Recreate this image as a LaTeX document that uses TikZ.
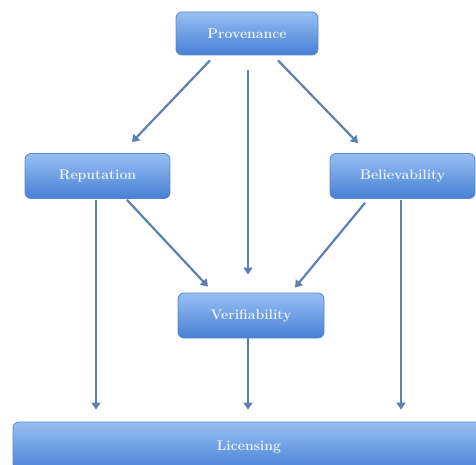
\documentclass[tikz,border=0pt]{standalone}
\usetikzlibrary{arrows.meta}

\definecolor{boxtop}{HTML}{98BFF3}
\definecolor{boxbottom}{HTML}{4680D4}
\definecolor{boxline}{HTML}{5787CC}
\definecolor{arrowblue}{HTML}{5E7FB2}
\definecolor{boxtext}{HTML}{EAF1FB}

\begin{document}
\begin{tikzpicture}[
            x=1pt, y=1pt,
            box/.style={draw=boxline, line width=0.8pt, rounded corners=6pt,
                top color=boxtop, bottom color=boxbottom,
                text=boxtext, font=\fontsize{14}{16}\selectfont\bfseries,
                minimum width=#1, minimum height=45pt, inner sep=0pt},
            box/.default=145pt,
            arr/.style={->, draw=arrowblue, line width=2.2pt},
            >={Triangle[length=7pt,width=9pt]}
        ]
        \clip (0,0) rectangle (476,464);

        \node[box=142pt, minimum height=43pt] (prov) at (247,430.5) {Provenance};
        \node[box] (rep) at (97.5,288) {Reputation};
        \node[box] (bel) at (402.5,288) {Believability};
        \node[box=146pt] (ver) at (251,148.5) {Verifiability};
        \node[box=472pt, minimum height=50pt] (lic) at (249,17) {Licensing};

        % from the top box
        \draw[arr] ([xshift=-37pt,yshift=-5pt]prov.south) -- ([xshift=34.5pt,yshift=11pt]rep.north);
        \draw[arr] ([xshift=1pt,yshift=-15pt]prov.south) -- ([xshift=-3pt,yshift=18pt]ver.north);
        \draw[arr] ([xshift=31pt,yshift=-5pt]prov.south) -- ([xshift=-44.5pt,yshift=10pt]bel.north);

        % into the middle box
        \draw[arr] ([xshift=29.5pt,yshift=-1pt]rep.south) -- ([xshift=-43pt,yshift=6pt]ver.north);
        \draw[arr] ([xshift=-37.5pt,yshift=-4pt]bel.south) -- ([xshift=44pt,yshift=5pt]ver.north);

        % down to the bottom box
        \draw[arr] ([xshift=-1.5pt,yshift=-1pt]rep.south) -- ([xshift=-1.5pt,yshift=12pt]rep.south |- lic.north);
        \draw[arr] ([xshift=-3pt]ver.south) -- ([xshift=-3pt,yshift=12pt]ver.south |- lic.north);
        \draw[arr] ([xshift=-1.5pt,yshift=-1pt]bel.south) -- ([xshift=-1.5pt,yshift=12pt]bel.south |- lic.north);
\end{tikzpicture}
\end{document}
